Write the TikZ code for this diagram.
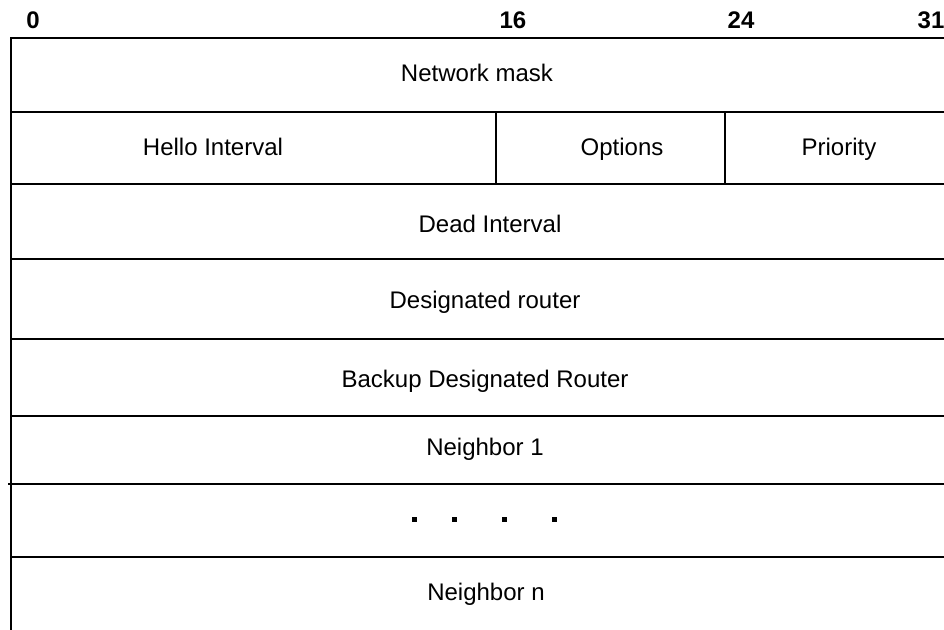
\documentclass[tikz,border=0pt]{standalone}
\usepackage{fontspec}
\setmainfont{Liberation Sans}
\usepackage{tikz}
\usetikzlibrary{positioning,calc}

\begin{document}
\begin{tikzpicture}[x=0.5pt, y=-0.5pt, line width=1pt,
    field/.style={font=\fontsize{12}{14}\selectfont, text height=1.6ex, text depth=.4ex},
    bitnum/.style={font=\bfseries\fontsize{12}{14}\selectfont, text height=1.6ex, text depth=0pt}]
            \useasboundingbox (0,0) rectangle (944,630);
            % bit numbers
            \node[bitnum] (b0) at (33,20) {0};
            \node[bitnum] (b16) at (513,20) {16};
            \node[bitnum] (b24) at (741,20) {24};
            \node[bitnum] (b31) at (931,20) {31};
            % rows
            \draw (11,630) -- (11,38) -- (944,38);
            \foreach \y in {112,184,259,339,416,557}
                \draw (11,\y) -- (944,\y);
            \draw (8,484) -- (944,484);
            \draw (496,112) -- (496,184);
            \draw (725,112) -- (725,184);
            % fields
            \node[field] (mask) at (477,75) {Network mask};
            \node[field] (hello) at (213,149) {Hello Interval};
            \node[field] (opts) at (622,149) {Options};
            \node[field] (prio) at (839,149) {Priority};
            \node[field] (dead) at (490,226) {Dead Interval};
            \node[field] (dr) at (485,302) {Designated router};
            \node[field] (bdr) at (485,381) {Backup Designated Router};
            \node[field] (nb1) at (485,449) {Neighbor 1};
            \foreach \x in {414,454,504,554}
                \fill (\x-2.5,517.5) rectangle (\x+2.5,522.5);
            \node[field] (nbn) at (486,594) {Neighbor n};
\end{tikzpicture}
\end{document}
